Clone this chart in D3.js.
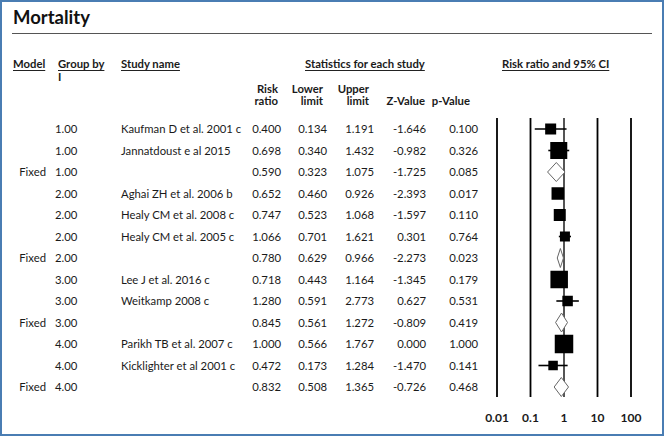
<!DOCTYPE html>
<html>
<head>
<meta charset="utf-8">
<script src="https://cdn.jsdelivr.net/npm/d3@7"></script>
<style>
  body { margin: 0; background: #fff; }
  svg text { font-family: Lato, "Liberation Sans", sans-serif; fill: #1a1a1a; }
</style>
</head>
<body>
<svg id="chart"></svg>
<script>
const models = ["", "", "Fixed", "", "", "", "Fixed", "", "", "Fixed", "", "", "Fixed"];
const groups = ["1.00", "1.00", "1.00", "2.00", "2.00", "2.00", "2.00", "3.00", "3.00", "3.00", "4.00", "4.00", "4.00"];
const studies = ["Kaufman D et al. 2001 c", "Jannatdoust e al 2015", "", "Aghai ZH et al. 2006 b",
    "Healy CM et al. 2008 c", "Healy CM et al. 2005 c", "", "Lee J et al. 2016 c", "Weitkamp 2008 c", "",
    "Parikh TB et al. 2007 c", "Kicklighter et al 2001 c", ""];
const riskRatio = [0.400, 0.698, 0.590, 0.652, 0.747, 1.066, 0.780, 0.718, 1.280, 0.845, 1.000, 0.472, 0.832];
const lowerLimit = [0.134, 0.340, 0.323, 0.460, 0.523, 0.701, 0.629, 0.443, 0.591, 0.561, 0.566, 0.173, 0.508];
const upperLimit = [1.191, 1.432, 1.075, 0.926, 1.068, 1.621, 0.966, 1.164, 2.773, 1.272, 1.767, 1.284, 1.365];
const zValues = ["-1.646", "-0.982", "-1.725", "-2.393", "-1.597", "0.301", "-2.273", "-1.345", "0.627", "-0.809", "0.000", "-1.470", "-0.726"];
const pValues = ["0.100", "0.326", "0.085", "0.017", "0.110", "0.764", "0.023", "0.179", "0.531", "0.419", "1.000", "0.141", "0.468"];
// relative study weights (square size), null for pooled rows
const weights = [11, 17, null, 12.5, 12, 10, null, 17.5, 10.5, null, 18.5, 9.5, null];
const ticks = [0.01, 0.1, 1, 10, 100];

const width = 664, height = 436;
const svg = d3.select("#chart").attr("width", width).attr("height", height);

svg.append("rect").attr("x", 1).attr("y", 1).attr("width", width - 2).attr("height", height - 2)
    .attr("fill", "#fff").attr("stroke", "#4a7db3").attr("stroke-width", 2);

svg.append("text").attr("x", 13).attr("y", 24).attr("font-size", 18.5).attr("font-weight", "bold")
    .style("fill", "#111").text("Mortality");
svg.append("line").attr("x1", 12).attr("x2", 652).attr("y1", 33.5).attr("y2", 33.5)
    .attr("stroke", "#555").attr("stroke-width", 1);

const rows = d3.range(riskRatio.length);
const y = d3.scalePoint().domain(rows).range([129, 387]);
const x = d3.scaleLog().domain([0.01, 100]).range([497, 631]);
const size = d3.scaleLinear().domain([0, 20]).range([0, 20]);

// column headers
const headers = [
    { t: "Model", x: 13 }, { t: "Group by", x: 58 }, { t: "Study name", x: 121 },
    { t: "Statistics for each study", x: 305 }, { t: "Risk ratio and 95% CI", x: 502 }
];
headers.forEach(h => {
    const t = svg.append("text").attr("x", h.x).attr("y", 67.5).attr("font-size", 11.3)
        .attr("font-weight", "bold").text(h.t);
    const w = t.node().getComputedTextLength();
    svg.append("line").attr("x1", h.x).attr("x2", h.x + w).attr("y1", 70.5).attr("y2", 70.5)
        .attr("stroke", "#222").attr("stroke-width", 1);
});
svg.append("text").attr("x", 58).attr("y", 81).attr("font-size", 11.3).attr("font-weight", "bold").text("I");

const sub = [
    { a: "Risk", b: "ratio", x: 278 }, { a: "Lower", b: "limit", x: 323 }, { a: "Upper", b: "limit", x: 369 },
    { a: "", b: "Z-Value", x: 425 }, { a: "", b: "p-Value", x: 470 }
];
sub.forEach(s => {
    svg.append("text").attr("x", s.x).attr("y", 92.5).attr("font-size", 11.3).attr("font-weight", "bold")
        .attr("text-anchor", "end").text(s.a);
    svg.append("text").attr("x", s.x).attr("y", 105).attr("font-size", 11.3).attr("font-weight", "bold")
        .attr("text-anchor", "end").text(s.b);
});

// table body
const cols = [
    { v: i => models[i], x: 46, anchor: "end" },
    { v: i => groups[i], x: 55, anchor: "start" },
    { v: i => studies[i], x: 121, anchor: "start" },
    { v: i => riskRatio[i].toFixed(3), x: 281, anchor: "end" },
    { v: i => lowerLimit[i].toFixed(3), x: 327, anchor: "end" },
    { v: i => upperLimit[i].toFixed(3), x: 374, anchor: "end" },
    { v: i => zValues[i], x: 426, anchor: "end" },
    { v: i => pValues[i], x: 478, anchor: "end" }
];
cols.forEach(c => {
    svg.append("g").selectAll("text").data(rows).enter().append("text")
        .attr("x", c.x).attr("y", d => y(d) + 4).attr("font-size", 11.3)
        .attr("text-anchor", c.anchor).text(c.v);
});

// forest plot grid
svg.append("g").selectAll("line").data(ticks).enter().append("line")
    .attr("x1", d => x(d)).attr("x2", d => x(d)).attr("y1", 118).attr("y2", 397)
    .attr("stroke", d => d === 1 ? "#555" : "#000").attr("stroke-width", d => d === 1 ? 2 : 1.8);
svg.append("g").selectAll("text").data(ticks).enter().append("text")
    .attr("x", d => x(d)).attr("y", 422).attr("font-size", 12).attr("font-weight", "bold")
    .attr("text-anchor", "middle").text(d => d);

const studyRows = rows.filter(i => weights[i] !== null);
const pooledRows = rows.filter(i => weights[i] === null);

svg.append("g").selectAll("line").data(studyRows).enter().append("line")
    .attr("x1", i => x(lowerLimit[i])).attr("x2", i => x(upperLimit[i]))
    .attr("y1", i => y(i)).attr("y2", i => y(i)).attr("stroke", "#000").attr("stroke-width", 1.6);
svg.append("g").selectAll("rect").data(studyRows).enter().append("rect")
    .attr("x", i => x(riskRatio[i]) - size(weights[i]) / 2).attr("y", i => y(i) - size(weights[i]) / 2)
    .attr("width", i => size(weights[i])).attr("height", i => size(weights[i])).attr("fill", "#000");

svg.append("g").selectAll("path").data(pooledRows).enter().append("path")
    .attr("d", i => `M${x(lowerLimit[i])},${y(i)}L${x(riskRatio[i])},${y(i) - 9.5}L${x(upperLimit[i])},${y(i)}L${x(riskRatio[i])},${y(i) + 9.5}Z`)
    .attr("fill", "#fff").attr("stroke", "#666").attr("stroke-width", 1);
</script>
</body>
</html>
